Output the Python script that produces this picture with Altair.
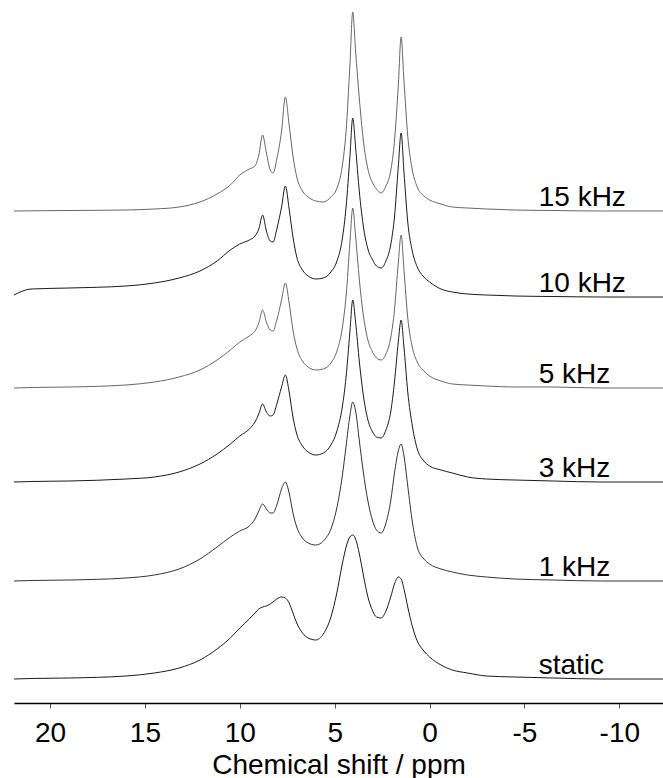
import altair as alt
import pandas as pd

# chemical shift grid (ppm)
ppm = [21.9, 21.0, 19, 16, 14.5, 13.2, 12.1, 11.2, 10.5, 10.0, 9.5,
       9.2, 9.0, 8.8, 8.6, 8.4, 8.25, 8.05, 7.8, 7.6, 7.4,
       7.2, 7.0, 6.7, 6.4, 6.0, 5.6, 5.2, 4.9, 4.6, 4.4,
       4.2, 4.05, 3.9, 3.7, 3.5, 3.25, 3.0, 2.8, 2.55, 2.3,
       2.05, 1.85, 1.65, 1.5, 1.35, 1.15, 0.9, 0.65, 0.3, 0.0,
       -0.6, -1.2, -2.0, -3.0, -4.5, -6.5, -9.0, -12.3]

labels = ["15 kHz", "10 kHz", "5 kHz", "3 kHz", "1 kHz", "static"]
offsets = [492, 406, 315, 221, 122, 24]

int_15 = [0, 0.2, 0.5, 1, 2, 4, 9, 17, 26, 36, 42,
          45, 56, 76, 58, 41, 38, 52, 80, 114, 86,
          55, 34, 20, 14, 10, 9, 14, 22, 45, 80,
          145, 199, 160, 112, 72, 42, 28, 22, 18, 25,
          40, 70, 125, 174, 130, 75, 40, 24, 15, 11,
          7, 4, 3, 2, 1, 0.5, 0, 0]
int_10 = [2, 8, 9, 11, 14, 19, 26, 36, 47, 53, 57,
          61, 68, 82, 66, 56, 55, 68, 90, 111, 88,
          60, 40, 27, 21, 18, 19, 25, 35, 58, 90,
          140, 179, 150, 105, 72, 48, 37, 31, 29, 36,
          52, 80, 130, 164, 125, 75, 45, 30, 20, 15,
          8, 5, 3, 2, 1, 0.5, 0, 0]
int_5 = [0, 0.5, 1, 3, 6, 11, 18, 28, 38, 46, 52,
         57, 65, 78, 66, 58, 57, 68, 88, 105, 85,
         58, 40, 27, 21, 18, 19, 25, 36, 60, 92,
         145, 180, 152, 108, 74, 48, 36, 30, 28, 34,
         50, 78, 125, 153, 118, 70, 40, 26, 17, 12,
         7, 4, 3, 2, 1, 1, 0, 0]
int_3 = [0, 0.5, 1, 3, 5, 10, 18, 28, 38, 46, 53,
         60, 68, 78, 70, 66, 67, 78, 95, 107, 90,
         65, 48, 36, 30, 27, 29, 37, 50, 75, 105,
         150, 182, 160, 120, 88, 62, 50, 45, 44, 52,
         70, 100, 140, 162, 135, 90, 55, 33, 21, 16,
         12, 9, 5, 3, 2, 1, 0, 0]
int_1 = [0, 0.5, 1, 3, 6, 12, 22, 34, 44, 50, 55,
         62, 70, 77, 72, 68, 68, 76, 92, 99, 88,
         68, 54, 43, 38, 36, 40, 52, 72, 105, 135,
         165, 179, 170, 140, 110, 80, 60, 51, 48, 58,
         80, 108, 130, 137, 125, 95, 58, 34, 22, 17,
         12, 9, 6, 4, 2, 1, 0, 0]
int_static = [0, 0.5, 1, 3, 6, 11, 19, 30, 41, 51, 60,
              66, 70, 72, 73, 75, 77, 80, 82, 81, 76,
              66, 56, 46, 41, 39, 45, 62, 85, 115, 132,
              142, 144, 140, 125, 105, 82, 68, 62, 61, 68,
              82, 95, 102, 100, 90, 72, 52, 38, 28, 22,
              14, 9, 6, 3, 2, 1, 0, 0]

tick_values = [20, 15, 10, 5, 0, -5, -10]

series = [int_15, int_10, int_5, int_3, int_1, int_static]
rows = []
for name, off, ys in zip(labels, offsets, series):
    assert len(ys) == len(ppm)
    for p, v in zip(ppm, ys):
        rows.append({"ppm": p, "y": off + v, "series": name})
df = pd.DataFrame(rows)
lab_df = pd.DataFrame({"series": labels, "offset": offsets})

FONT = "Liberation Sans"
xscale = alt.Scale(domain=[-12.3, 21.9], reverse=True, nice=False, zero=False)
yscale = alt.Scale(domain=[0, 703], nice=False, zero=False)

lines = alt.Chart(df).mark_line(strokeWidth=1, interpolate="monotone").encode(
    x=alt.X("ppm:Q", scale=xscale,
            axis=alt.Axis(values=tick_values, title="Chemical shift / ppm",
                          labelExpr="'' + datum.value",
                          labelFont=FONT, labelFontSize=28, labelColor="#000",
                          titleFont=FONT, titleFontSize=28, titleFontWeight="normal",
                          titleColor="#000", titlePadding=4,
                          domainColor="#000", domainWidth=1.5,
                          tickColor="#555", tickSize=5, tickWidth=1,
                          labelPadding=11, grid=False, labelFlush=False)),
    y=alt.Y("y:Q", scale=yscale, axis=None),
    color=alt.Color("series:N", legend=None,
                    scale=alt.Scale(domain=labels,
                                    range=["#666666", "#1a1a1a", "#666666",
                                           "#1a1a1a", "#333333", "#1a1a1a"])),
)

texts = alt.Chart(lab_df).transform_calculate(
    ty="datum.offset + 5"
).mark_text(align="left", baseline="alphabetic", font=FONT, fontSize=28,
            color="#000").encode(
    x=alt.datum(-5.75, scale=xscale),
    y=alt.Y("ty:Q", scale=yscale, axis=None),
    text="series:N",
)

chart = alt.layer(lines, texts).properties(
    width=649, height=703,
    padding={"left": 14, "top": 0, "right": 0, "bottom": 75},
    autosize=alt.AutoSizeParams(type="none"),
).configure_view(stroke=None)

chart.save("out.html", embed_options={"renderer": "svg", "actions": False})
